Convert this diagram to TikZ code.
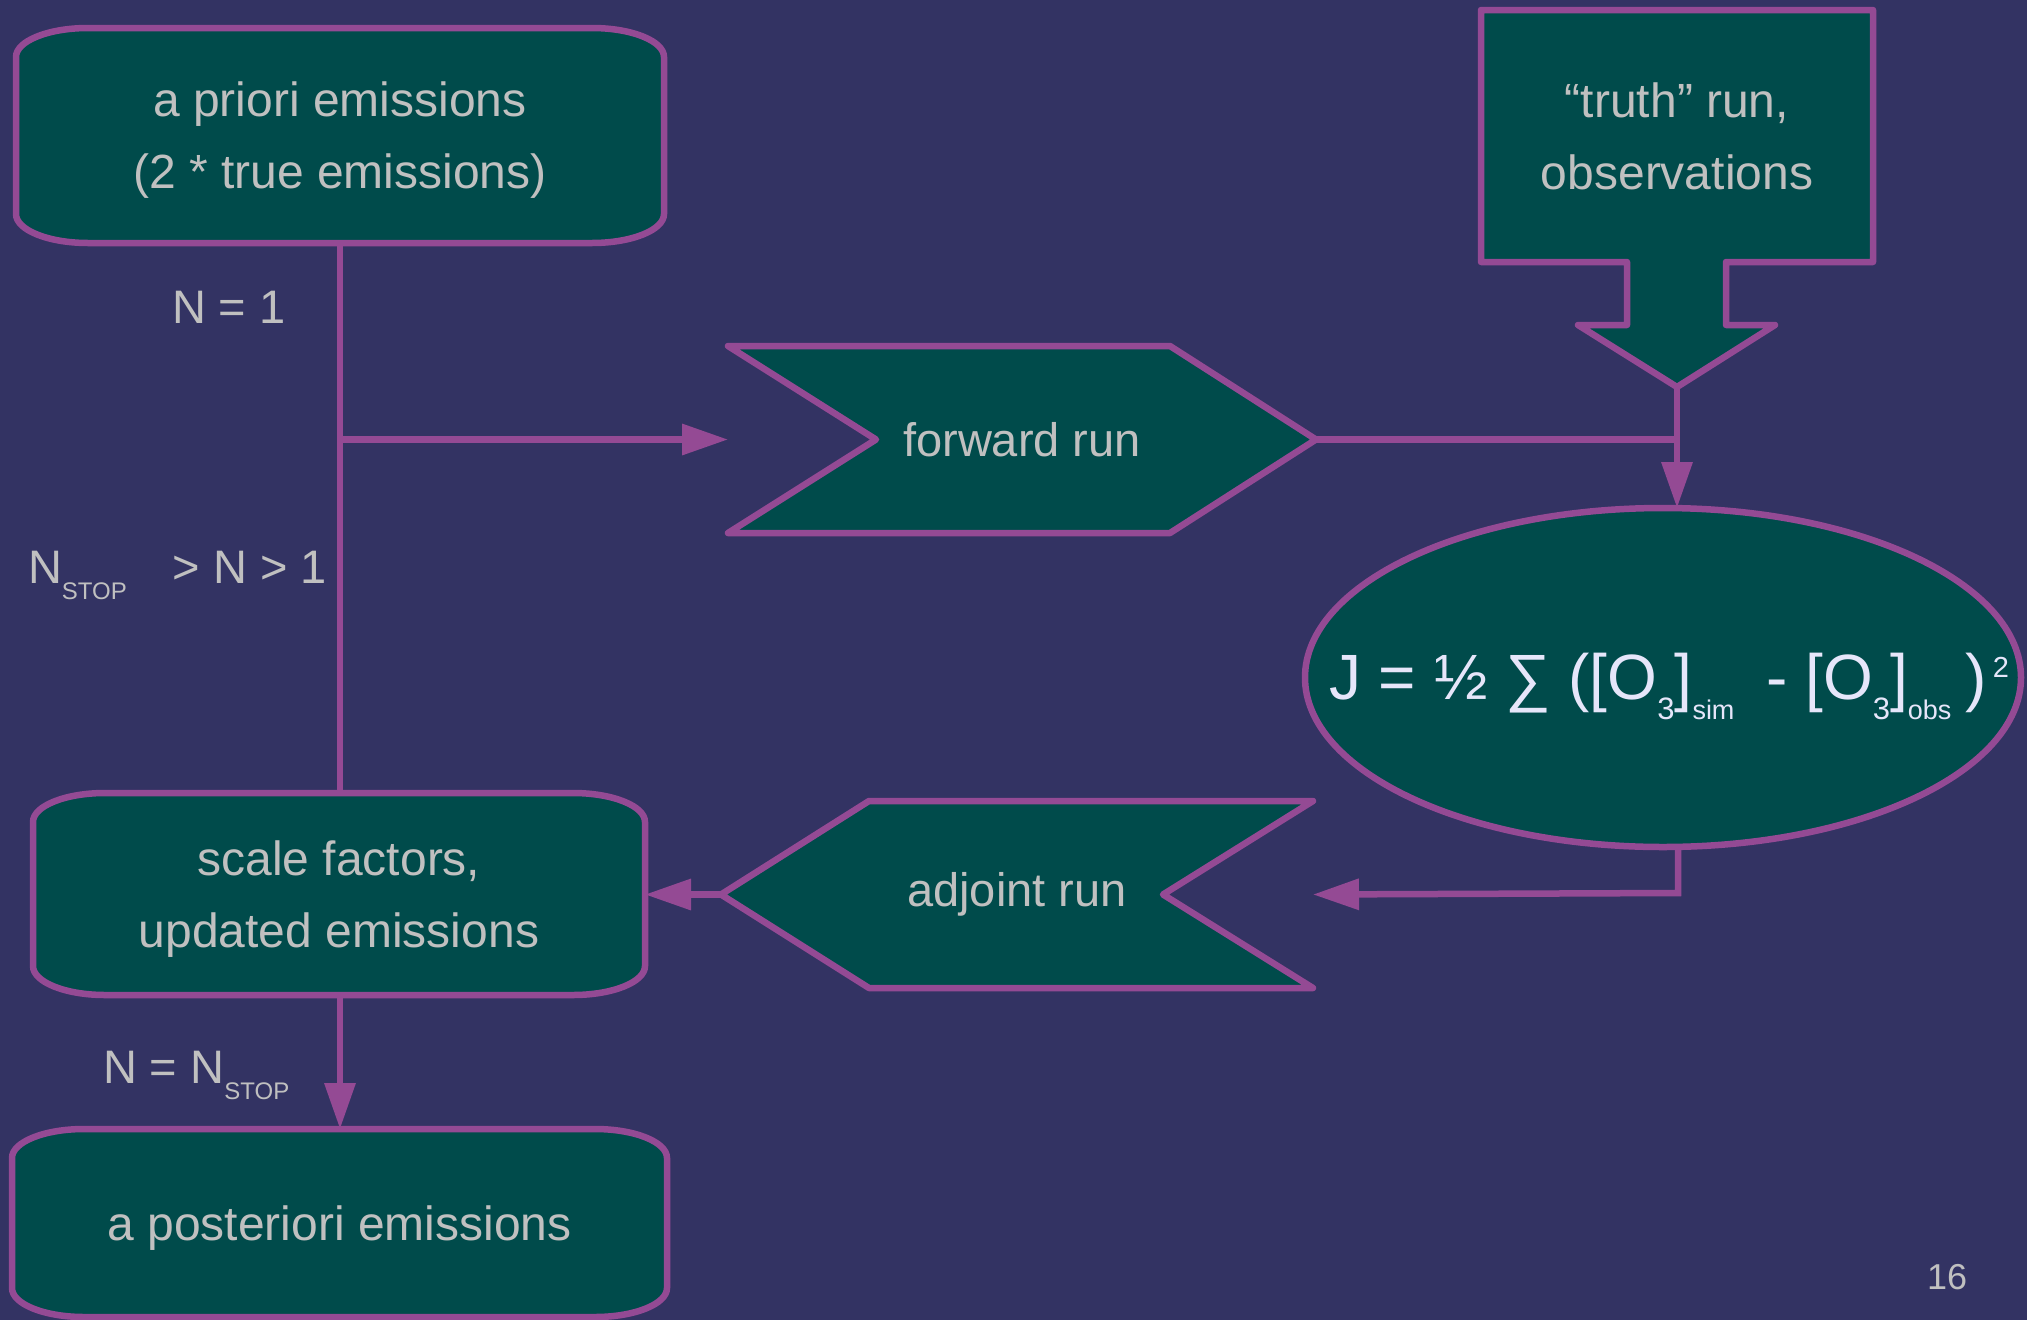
\documentclass[tikz,border=0pt]{standalone}
\usepackage{fontspec}
\setmainfont{Liberation Sans}
\usetikzlibrary{shapes.geometric,arrows.meta,calc}
\definecolor{bgc}{RGB}{51,51,99}
\definecolor{boxc}{RGB}{0,75,75}
\definecolor{linec}{RGB}{148,74,148}
\definecolor{txtc}{RGB}{192,192,192}
\definecolor{eqc}{RGB}{230,230,250}
\pgfdeclarelayer{background}
\pgfsetlayers{background,main}
\newcommand\eqsubn[1]{\raisebox{-20pt}{\fontsize{31}{31}\selectfont #1}}
\newcommand\eqsubw[1]{\raisebox{-20pt}{\fontsize{27}{27}\selectfont #1}}
\newcommand\eqsupn[1]{\raisebox{22pt}{\fontsize{29}{29}\selectfont #1}}
\newcommand\stopsub[1]{\raisebox{-16pt}{\fontsize{24}{24}\selectfont #1}}
\newcommand\roundbox[1]{%
  \path[boxstyle] ([xshift=72pt]#1.north west) -- ([xshift=-72pt]#1.north east)
    arc[start angle=90,end angle=0,x radius=72pt,y radius=29pt]
    -- ([yshift=29pt]#1.south east)
    arc[start angle=0,end angle=-90,x radius=72pt,y radius=29pt]
    -- ([xshift=72pt]#1.south west)
    arc[start angle=270,end angle=180,x radius=72pt,y radius=29pt]
    -- ([yshift=-29pt]#1.north west)
    arc[start angle=180,end angle=90,x radius=72pt,y radius=29pt] -- cycle;}
\begin{document}
\begin{tikzpicture}[x=1pt,y=-1pt,
  boxstyle/.style={fill=boxc,draw=linec,line width=6.5pt,line join=round},
  holder/.style={inner sep=0pt,outer sep=0pt,text=txtc,font=\fontsize{48}{72}\selectfont,align=center},
  conn/.style={draw=linec,line width=6.5pt},
  arr/.style={conn,-{Triangle[length=46pt,width=30pt]}},
  lbl/.style={inner sep=0pt,outer sep=0pt,text=txtc,font=\fontsize{47}{50}\selectfont,anchor=base west},
]
\useasboundingbox (0,0) rectangle (2027,1320);
% nodes
\node[holder,text depth=0pt,minimum width=648pt,minimum height=215pt] (prior) at (340,135.5) {a priori emissions\\(2 * true emissions)};
\node[holder,minimum width=392pt,minimum height=252pt] (truth) at (1677,136) {“truth” run,\\observations};
\coordinate (truthtip) at (1677,387);
\node[holder,minimum width=588pt,minimum height=187pt,font=\fontsize{47}{60}\selectfont] (forward) at (1022,439.5) {forward run};
\node[ellipse,boxstyle,minimum width=716pt,minimum height=339pt,inner sep=0pt,outer sep=0pt,text=eqc,text height=0pt,text depth=0pt,font=\fontsize{64}{70}\selectfont] (cost) at (1663,677.5)
  {\raisebox{-22pt}[0pt][0pt]{\makebox[0pt]{\hspace{12pt}J = ½ ∑ ([O\eqsubn{3}]\eqsubw{sim}\hspace{14pt} - [O\eqsubn{3}]\eqsubw{obs}\hspace{14pt})\hspace{6pt}\eqsupn{2}}}};
\node[holder,minimum width=592pt,minimum height=187pt,font=\fontsize{47}{60}\selectfont] (adjoint) at (1017,894.5) {adjoint run};
\node[holder,text depth=0pt,minimum width=612pt,minimum height=202pt] (scale) at (339,894) {scale factors,\\updated emissions};
\node[holder,text depth=0pt,minimum width=655pt,minimum height=188pt] (post) at (339.5,1223) {a posteriori emissions};
% labels
\node[lbl] (n1) at (172,323) {N = 1};
\node[lbl] (nrange) at (28,583) {N\stopsub{STOP}\hspace{46pt}> N > 1};
\node[lbl] (nstop) at (103,1083) {N = N\stopsub{STOP}};
\node[inner sep=0pt,text=txtc,font=\fontsize{36}{40}\selectfont] (page) at (1947,1277) {16};
% shapes on background
\begin{pgfonlayer}{background}
\fill[bgc] (0,0) rectangle (2027,1320);
\roundbox{prior}
\roundbox{scale}
\roundbox{post}
\path[boxstyle] (truth.north west) -- (truth.north east) -- (truth.south east)
  -- (1726,262) -- (1726,325) -- (1775,325) -- (truthtip) -- (1578,325) -- (1627,325)
  -- (1627,262) -- (truth.south west) -- cycle;
\path[boxstyle] (forward.north west) -- ([xshift=-146pt]forward.north east) -- (forward.east)
  -- ([xshift=-146pt]forward.south east) -- (forward.south west) -- ([xshift=148pt]forward.west) -- cycle;
\path[boxstyle] ([xshift=148pt]adjoint.north west) -- (adjoint.north east) -- ([xshift=-150pt]adjoint.east)
  -- (adjoint.south east) -- ([xshift=148pt]adjoint.south west) -- (adjoint.west) -- cycle;
\end{pgfonlayer}
% connectors
\draw[conn] (prior.south) -- (scale.north -| prior.south);
\draw[arr] (prior.south |- forward.west) -- (forward.west);
\draw[conn] (forward.east) -- (forward.east -| truthtip);
\draw[arr] (truthtip) -- (truthtip |- cost.north);
\draw[arr] ($(cost.south)+(15,0)$) -- ++(0,46) -- (adjoint.east);
\draw[arr] (adjoint.west) -- (scale.east |- adjoint.west);
\draw[arr] (scale.south -| prior.south) -- (post.north -| prior.south);
\end{tikzpicture}
\end{document}
